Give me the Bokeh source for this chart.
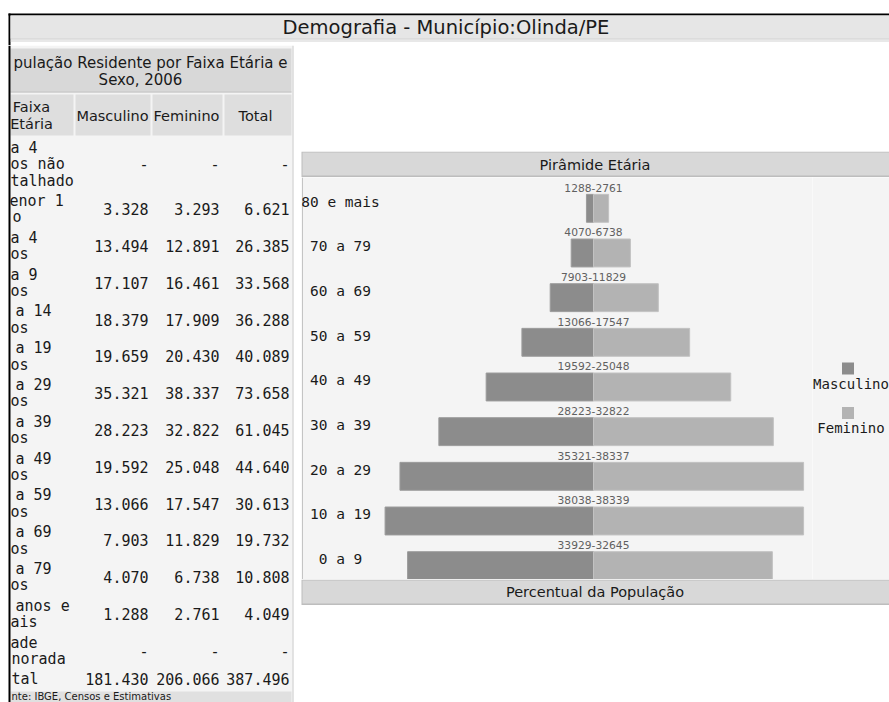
from bokeh.plotting import figure
from bokeh.layouts import column, row
from bokeh.models import Range1d, FactorRange, ColumnDataSource
from bokeh.transform import dodge
from bokeh.core.properties import value
from bokeh.embed import file_html
from bokeh.resources import INLINE

# ------------------------------------------------------------------ data
page_title = "Demografia - Município:Olinda/PE"
# the table is scrolled horizontally in the reference: only these parts show
table_title = ["pulação Residente por Faixa Etária e", "Sexo, 2006"]
table_columns = ["Faixa Etária", "Masculino", "Feminino", "Total"]
table_row_labels = [
    ["a 4", "os não", "talhado"],
    ["enor 1", "o"],
    ["a 4", "os"],
    ["a 9", "os"],
    ["a 14", "os"],
    ["a 19", "os"],
    ["a 29", "os"],
    ["a 39", "os"],
    ["a 49", "os"],
    ["a 59", "os"],
    ["a 69", "os"],
    ["a 79", "os"],
    ["anos e", "ais"],
    ["ade", "norada"],
    ["tal"],
]
table_male = [None, 3328, 13494, 17107, 18379, 19659, 35321, 28223, 19592, 13066, 7903, 4070, 1288, None, 181430]
table_female = [None, 3293, 12891, 16461, 17909, 20430, 38337, 32822, 25048, 17547, 11829, 6738, 2761, None, 206066]
table_total = [None, 6621, 26385, 33568, 36288, 40089, 73658, 61045, 44640, 30613, 19732, 10808, 4049, None, 387496]
table_source = "nte: IBGE, Censos e Estimativas"

pyr_title = "Pirâmide Etária"
pyr_footer = "Percentual da População"
age_groups = ["0 a 9", "10 a 19", "20 a 29", "30 a 39", "40 a 49",
              "50 a 59", "60 a 69", "70 a 79", "80 e mais"]
pyr_male = [33929, 38038, 35321, 28223, 19592, 13066, 7903, 4070, 1288]
pyr_female = [32645, 38339, 38337, 32822, 25048, 17547, 11829, 6738, 2761]
legend_labels = ["Masculino", "Feminino"]

# ------------------------------------------------------------------ style
SANS = value("DejaVu Sans")
MONO = value("DejaVu Sans Mono")
C_MALE, C_FEMALE = "#8c8c8c", "#b3b3b3"
C_MALE_LINE, C_FEMALE_LINE = "#9c9c9c", "#c2c2c2"
C_HEAD = "#d8d8d8"
C_PANEL = "#f4f4f4"
C_TEXT = "#1a1a1a"
# left offsets of the (partly hidden) row label lines
label_x = [[10, 10, 10], [9, 12]] + [[10, 10]] * 2 + [[15, 10]] * 8 + [[15, 10], [10, 11], [11]]


def fmt(v):
    return "-" if v is None else format(v, ",").replace(",", ".")


def page_fig(x0, x1, y0, y1, bg="white"):
    """Figure whose data units are screen pixels (y downwards)."""
    p = figure(width=x1 - x0, height=y1 - y0,
               x_range=Range1d(x0, x1), y_range=Range1d(y1, y0),
               x_axis_location=None, y_axis_location=None,
               output_backend="svg", toolbar_location=None,
               min_border_left=0, min_border_right=0,
               min_border_top=0, min_border_bottom=0)
    p.grid.visible = False
    p.outline_line_color = None
    p.background_fill_color = bg
    p.border_fill_color = bg
    return p


def box(p, l, r, t, b, color):
    p.quad(left=[l], right=[r], top=[t], bottom=[b], fill_color=color, line_color=None)


# ------------------------------------------------------------------ title bar
tp = page_fig(0, 889, 0, 45)
box(tp, 8, 889, 13, 15, "black")
box(tp, 8, 10, 13, 45, "black")
box(tp, 10, 889, 15, 38, "#e6e6e6")
box(tp, 10, 889, 38, 39, "#c6c6c6")
box(tp, 10, 889, 40, 41, "#d2d2d2")
tp.text(x=[445.5], y=[26.5], text=[page_title], text_font=SANS, text_font_size="19.5px",
        text_align="center", text_baseline="middle", text_color=C_TEXT)

# ------------------------------------------------------------------ table
tb = page_fig(0, 295, 45, 702)
box(tb, 10, 293, 45, 702, C_PANEL)
box(tb, 292, 293, 45, 702, "#cdcdcd")
box(tb, 10, 291, 48, 92, C_HEAD)
box(tb, 10, 291, 91, 92, "#c4c4c4")
for (l, r) in [(10, 73), (75, 150), (152, 222), (224, 291)]:
    box(tb, l, r, 94, 135, "#dedede")
box(tb, 10, 291, 691, 702, "#e0e0e0")
box(tb, 8, 10, 45, 702, "black")

tb.text(x=[287], y=[62.5], text=[table_title[0]], text_font=SANS, text_font_size="15px",
        text_align="right", text_baseline="middle", text_color=C_TEXT)
tb.text(x=[140], y=[79.5], text=[table_title[1]], text_font=SANS, text_font_size="15px",
        text_align="center", text_baseline="middle", text_color=C_TEXT)
head_x = [31, 112, 186, 255]
hx, hy, ht = [], [], []
for k, (cx, name) in enumerate(zip(head_x, table_columns)):
    parts = name.split(" ") if k == 0 else [name]
    for j, part in enumerate(parts):
        hx.append(cx)
        hy.append(115 + (j - (len(parts) - 1) / 2) * 16.5)
        ht.append(part)
tb.text(x=hx, y=hy, text=ht, text_font=SANS, text_font_size="14.5px",
        text_align="center", text_baseline="middle", text_color=C_TEXT)

LINE_H = 16.5
ROW_BASE = 20.3
y_top = 137.0
lx, ly, lt = [], [], []
vx, vy, vt = [], [], []
for lines, xs, m, f, t in zip(table_row_labels, label_x, table_male, table_female, table_total):
    h = ROW_BASE + LINE_H * (len(lines) - 1)
    cy = y_top + h / 2
    for j, (ln, x0) in enumerate(zip(lines, xs)):
        lx.append(x0)
        ly.append(cy + (j - (len(lines) - 1) / 2) * LINE_H)
        lt.append(ln)
    for xr, v in zip((148, 219, 289), (m, f, t)):
        vx.append(xr)
        vy.append(cy)
        vt.append(fmt(v))
    y_top += h
tb.text(x=lx, y=ly, text=lt, text_font=MONO, text_font_size="15px",
        text_align="left", text_baseline="middle", text_color=C_TEXT)
tb.text(x=vx, y=vy, text=vt, text_font=MONO, text_font_size="15px",
        text_align="right", text_baseline="middle", text_color=C_TEXT)
tb.text(x=[11], y=[695.5], text=[table_source], text_font=SANS, text_font_size="10px",
        text_align="left", text_baseline="middle", text_color=C_TEXT)

# ------------------------------------------------------------------ pyramid panel
top_sp = page_fig(295, 889, 45, 151)
box(top_sp, 295, 889, 45, 151, "white")

hd = page_fig(295, 889, 151, 177)
box(hd, 301, 889, 151, 177, "#bdbdbd")
box(hd, 302, 889, 152, 175, C_HEAD)
hd.text(x=[594.5], y=[164], text=[pyr_title], text_font=SANS, text_font_size="14.5px",
        text_align="center", text_baseline="middle", text_color=C_TEXT)

PPX = 182.5   # persons per pixel
src = ColumnDataSource(dict(
    age=age_groups,
    male_left=[-v for v in pyr_male],
    female=pyr_female,
    label=[f"{m}-{f}" for m, f in zip(pyr_male, pyr_female)],
))
pp = figure(width=517, height=402,
            x_range=Range1d(-292 * PPX, 219 * PPX),
            y_range=FactorRange(factors=age_groups, range_padding=0),
            x_axis_location=None, y_axis_location=None,
            output_backend="svg", toolbar_location=None,
            min_border_left=6, min_border_right=0,
            min_border_top=0, min_border_bottom=0)
pp.grid.visible = False
pp.background_fill_color = C_PANEL
pp.border_fill_color = "white"
pp.outline_line_color = None
pp.extra_x_ranges = {"px": Range1d(301, 812)}
pp.vspan(x=[301.5], x_range_name="px", line_color="#c4c4c4", line_width=1)

pp.hbar(y=dodge("age", -0.19, range=pp.y_range), left="male_left", right=0, height=0.625,
        source=src, fill_color=C_MALE, line_color=C_MALE_LINE)
pp.hbar(y=dodge("age", -0.19, range=pp.y_range), left=0, right="female", height=0.625,
        source=src, fill_color=C_FEMALE, line_color=C_FEMALE_LINE)
pp.text(x=0, y=dodge("age", 0.27, range=pp.y_range), text="label", source=src,
        text_font=SANS, text_font_size="10.7px", text_color="#606060",
        text_align="center", text_baseline="middle")
pp.text(x=340, y=dodge("age", -0.04, range=pp.y_range), text="age", source=src,
        x_range_name="px", text_font=MONO, text_font_size="14.5px", text_color=C_TEXT,
        text_align="center", text_baseline="middle")

# legend column (same panel background)
lg = page_fig(812, 889, 177, 579, bg=C_PANEL)
leg = ColumnDataSource(dict(
    x=[847.5] * len(legend_labels),
    y=[368 + 44.5 * i for i in range(len(legend_labels))],
    ty=[383 + 44.5 * i for i in range(len(legend_labels))],
    tx=[850.5] * len(legend_labels),
    label=legend_labels,
    color=[C_MALE, C_FEMALE],
))
lg.scatter(x="x", y="y", source=leg, marker="square", size=12, fill_color="color",
           line_color=None)
lg.text(x="tx", y="ty", text="label", source=leg,
        text_font=MONO, text_font_size="14px", text_color=C_TEXT,
        text_align="center", text_baseline="middle")

ft = page_fig(295, 889, 579, 605)
box(ft, 301, 889, 579, 605, "#bdbdbd")
box(ft, 302, 889, 580, 603, C_HEAD)
ft.text(x=[594.5], y=[591.5], text=[pyr_footer], text_font=SANS, text_font_size="14.5px",
        text_align="center", text_baseline="middle", text_color=C_TEXT)

bot_sp = page_fig(295, 889, 605, 702)
box(bot_sp, 295, 889, 605, 702, "white")

right = column(top_sp, hd, row(pp, lg, spacing=0), ft, bot_sp, spacing=0)
layout = column(tp, row(tb, right, spacing=0), spacing=0)

open("out.html", "w").write(file_html(layout, INLINE, title="Demografia - Olinda/PE"))
